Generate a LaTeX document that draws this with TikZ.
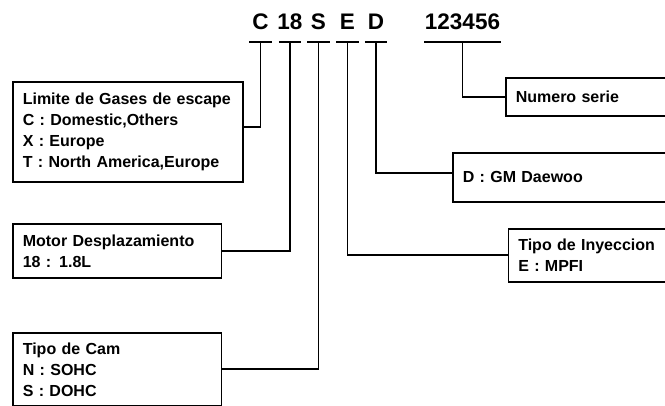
\documentclass[tikz,border=0pt]{standalone}
\usepackage{fontspec}
\setmainfont{Liberation Sans}
\usetikzlibrary{positioning}

\begin{document}
\begin{tikzpicture}[x=1pt,y=-1pt,
  code/.style={font=\fontsize{22.5}{22.5}\selectfont\bfseries, anchor=south, inner xsep=0pt, inner ysep=12pt, text depth=0pt, minimum width=25pt},
  infobox/.style={draw, rectangle, line width=1.6pt, anchor=north west, inner xsep=10pt, align=left, font=\fontsize{16}{21}\selectfont\bfseries},
  link/.style={line width=1.6pt}]
\useasboundingbox (0,0) rectangle (665,406);
\node[code] (c) at (260.5,42) {C};
\node[code] (d18) at (290,42) {18};
\node[code] (s) at (318.5,42) {S};
\node[code] (e) at (347.5,42) {E};
\node[code] (d) at (376,42) {D};
\node[code, minimum width=79pt] (serial) at (462.5,42) {123456};
\node[infobox, text width=210pt, minimum height=100pt] (limite) at (12,81) {Limite de Gases de escape\\C : Domestic,Others\\X : Europe\\T : North America,Europe};
\node[infobox, text width=188.5pt, minimum height=54pt] (motor) at (12,223) {Motor Desplazamiento\\18 : 1.8L};
\node[infobox, text width=188.5pt, minimum height=73pt] (cam) at (12,332) {Tipo de Cam\\N : SOHC\\S : DOHC};
\node[infobox, text width=180pt, minimum height=38pt] (numero) at (505,77) {Numero serie};
\node[infobox, text width=230pt, minimum height=49pt] (daewoo) at (452,152) {D : GM Daewoo};
\node[infobox, text width=180pt, minimum height=53pt] (inyeccion) at (507.5,228) {Tipo de Inyeccion\\E : MPFI};
\foreach \n in {c,d18,s,e,d,serial}
  \draw[link] ([xshift=1.5pt]\n.south west) -- ([xshift=-1.5pt]\n.south east);
\draw[link] (c.south) |- ([yshift=5pt]limite.east);
\draw[link] (d18.south) |- (motor.east);
\draw[link] (s.south) |- (cam.east);
\draw[link] (e.south) |- (inyeccion.west);
\draw[link] (d.south) |- ([yshift=4pt]daewoo.west);
\draw[link] (serial.south) |- (numero.west);
\end{tikzpicture}
\end{document}
